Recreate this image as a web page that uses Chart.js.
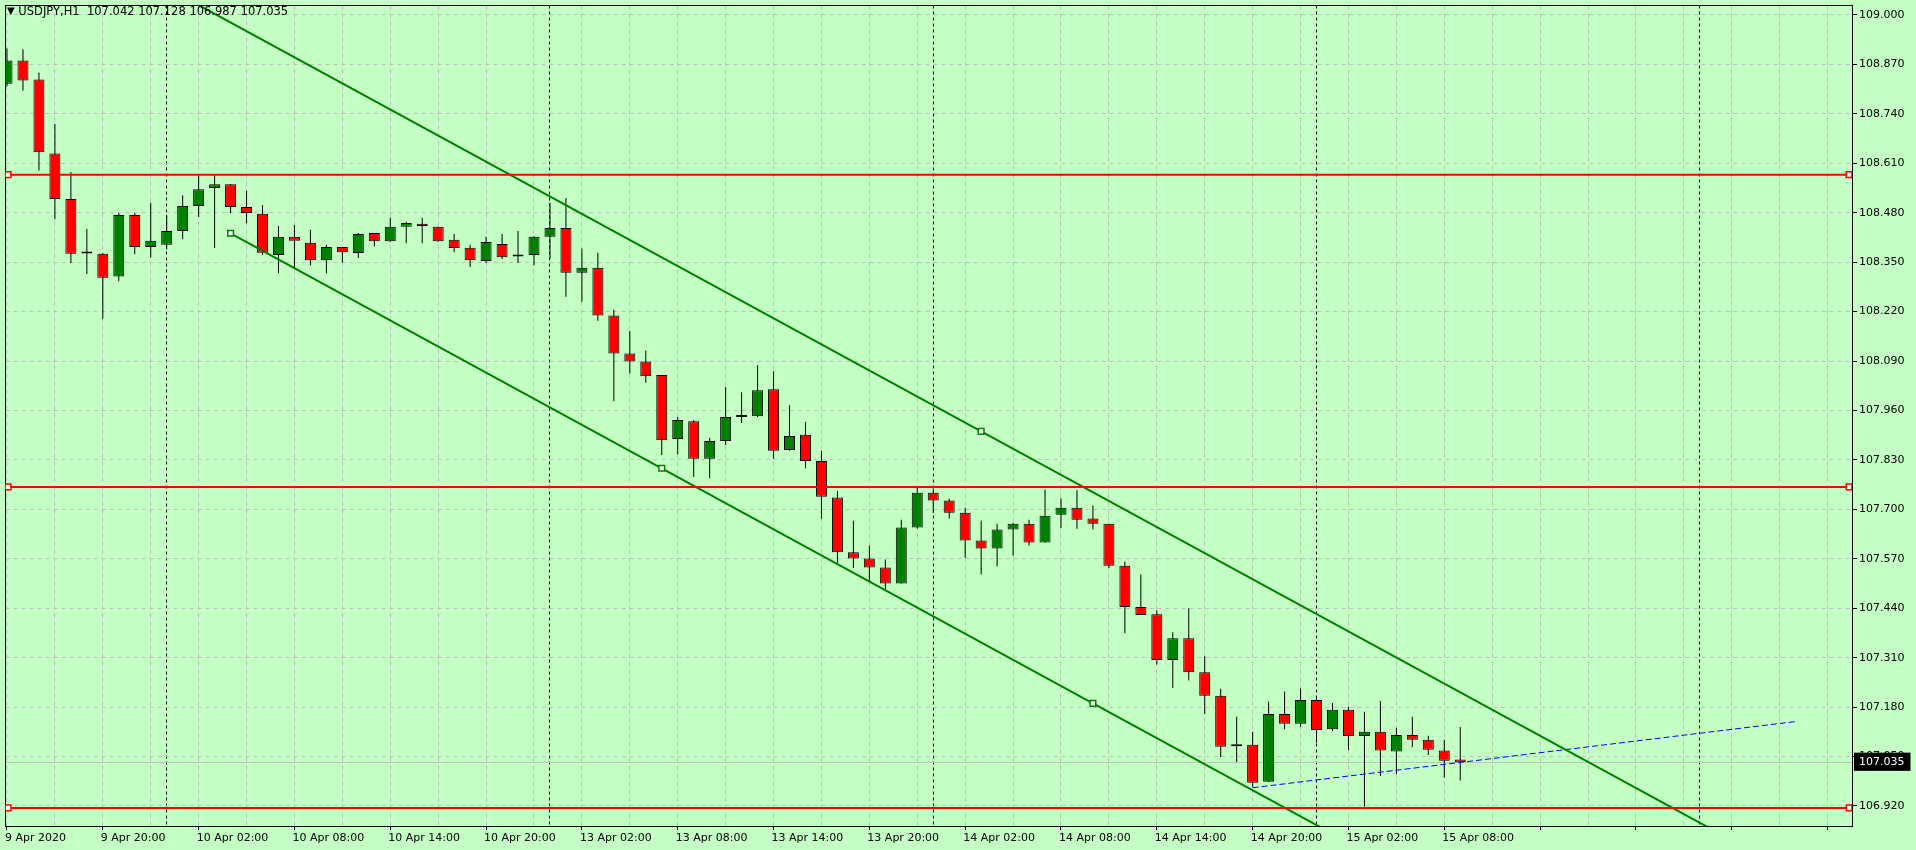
<!DOCTYPE html>
<html>
<head>
<meta charset="utf-8">
<title>USDJPY,H1</title>
<script src="https://cdn.jsdelivr.net/npm/chart.js@4.4.1/dist/chart.umd.min.js"></script>
<style>
  html, body { margin: 0; padding: 0; background: #c4ffc4; overflow: hidden; }
  #wrap { position: relative; width: 1916px; height: 850px; }
  #symbol { position: absolute; left: 7px; top: 4px; font: 11.5px "DejaVu Sans", sans-serif; color: #000; white-space: pre; }
  #symbol .arrow { font-size: 10px; position: relative; top: -1px; }
</style>
</head>
<body>
<div id="wrap">
  <canvas id="myChart" width="1916" height="850"></canvas>
  <div id="symbol"><span class="arrow">▼</span> USDJPY,H1  107.042 107.128 106.987 107.035</div>
</div>
<script>
// hourly bars, 9 Apr 14:00 .. 15 Apr 09:00 (weekend skipped)
const opens = [
  108.819, 108.880, 108.830, 108.636, 108.516, 108.374, 108.372, 108.312, 108.474, 108.390,
  108.396, 108.432, 108.498, 108.545, 108.555, 108.495, 108.477, 108.369, 108.417, 108.401,
  108.355, 108.390, 108.374, 108.427, 108.405, 108.443, 108.451, 108.443, 108.409, 108.388,
  108.353, 108.398, 108.366, 108.369, 108.417, 108.440, 108.322, 108.335, 108.210, 108.110,
  108.089, 108.053, 107.885, 107.932, 107.833, 107.880, 107.943, 107.945, 108.016, 107.856,
  107.896, 107.827, 107.731, 107.587, 107.571, 107.547, 107.505, 107.652, 107.744, 107.723,
  107.691, 107.618, 107.597, 107.647, 107.662, 107.613, 107.686, 107.704, 107.676, 107.662,
  107.552, 107.443, 107.424, 107.304, 107.361, 107.272, 107.210, 107.078, 107.081, 106.984,
  107.162, 107.136, 107.199, 107.122, 107.173, 107.104, 107.115, 107.063, 107.107, 107.094,
  107.066, 107.042
];
const highs = [
  108.912, 108.910, 108.849, 108.713, 108.587, 108.437, 108.374, 108.479, 108.479, 108.506,
  108.474, 108.526, 108.582, 108.582, 108.555, 108.537, 108.500, 108.445, 108.448, 108.435,
  108.396, 108.390, 108.427, 108.427, 108.467, 108.456, 108.467, 108.443, 108.424, 108.396,
  108.417, 108.424, 108.432, 108.419, 108.506, 108.519, 108.386, 108.375, 108.225, 108.169,
  108.118, 108.053, 107.943, 107.935, 107.888, 108.022, 108.008, 108.079, 108.063, 107.974,
  107.930, 107.854, 107.749, 107.670, 107.605, 107.568, 107.673, 107.758, 107.754, 107.728,
  107.704, 107.670, 107.662, 107.665, 107.673, 107.752, 107.729, 107.750, 107.710, 107.662,
  107.563, 107.529, 107.435, 107.377, 107.440, 107.314, 107.228, 107.155, 107.115, 107.195,
  107.221, 107.229, 107.205, 107.191, 107.181, 107.168, 107.196, 107.126, 107.155, 107.105,
  107.094, 107.128
];
const lows = [
  108.812, 108.801, 108.591, 108.463, 108.348, 108.319, 108.201, 108.300, 108.371, 108.362,
  108.384, 108.410, 108.469, 108.387, 108.479, 108.452, 108.369, 108.321, 108.335, 108.341,
  108.321, 108.349, 108.361, 108.392, 108.403, 108.400, 108.400, 108.403, 108.376, 108.337,
  108.348, 108.358, 108.348, 108.342, 108.358, 108.259, 108.246, 108.196, 107.984, 108.057,
  108.033, 107.843, 107.845, 107.785, 107.782, 107.869, 107.927, 107.943, 107.833, 107.854,
  107.808, 107.675, 107.559, 107.546, 107.511, 107.490, 107.505, 107.649, 107.691, 107.676,
  107.573, 107.529, 107.550, 107.578, 107.605, 107.613, 107.651, 107.649, 107.647, 107.546,
  107.374, 107.422, 107.292, 107.230, 107.250, 107.162, 107.049, 107.036, 106.969, 106.984,
  107.122, 107.128, 107.086, 107.117, 107.067, 106.918, 106.999, 107.004, 107.075, 107.054,
  106.994, 106.987
];
const closes = [
  108.880, 108.828, 108.639, 108.516, 108.372, 108.373, 108.309, 108.474, 108.390, 108.406,
  108.432, 108.498, 108.542, 108.555, 108.495, 108.479, 108.375, 108.417, 108.406, 108.355,
  108.390, 108.376, 108.424, 108.405, 108.443, 108.453, 108.445, 108.405, 108.387, 108.355,
  108.403, 108.363, 108.365, 108.417, 108.440, 108.322, 108.335, 108.210, 108.110, 108.089,
  108.050, 107.882, 107.935, 107.833, 107.880, 107.943, 107.943, 108.013, 107.854, 107.893,
  107.827, 107.733, 107.587, 107.571, 107.547, 107.505, 107.652, 107.744, 107.723, 107.691,
  107.618, 107.597, 107.647, 107.662, 107.613, 107.683, 107.704, 107.673, 107.662, 107.552,
  107.443, 107.422, 107.304, 107.361, 107.272, 107.210, 107.076, 107.077, 106.981, 107.162,
  107.136, 107.199, 107.120, 107.173, 107.104, 107.115, 107.066, 107.107, 107.094, 107.068,
  107.039, 107.035
];

// one label every 6 bars, starting at bar 0
const xLabels = [
  "9 Apr 2020", "9 Apr 20:00", "10 Apr 02:00", "10 Apr 08:00", "10 Apr 14:00", "10 Apr 20:00",
  "13 Apr 02:00", "13 Apr 08:00", "13 Apr 14:00", "13 Apr 20:00", "14 Apr 02:00", "14 Apr 08:00",
  "14 Apr 14:00", "14 Apr 20:00", "15 Apr 02:00", "15 Apr 08:00"
];
const yTicks = [
  109.000, 108.870, 108.740, 108.610, 108.480, 108.350, 108.220, 108.090, 107.960,
  107.830, 107.700, 107.570, 107.440, 107.310, 107.180, 107.050, 106.920
];
const bidPrice = 107.035;
const dayStarts = [10, 34, 58, 82, 106];

// objects drawn on the chart
const levels = [108.580, 107.759, 106.915];
const channelUpper = [{x: 12, y: 109.026}, {x: 61, y: 107.905}, {x: 107, y: 106.853}];
const channelLower = [{x: 14, y: 108.426}, {x: 41, y: 107.808}, {x: 68, y: 107.190}, {x: 83, y: 106.847}];
const trendBlue = [{x: 78, y: 106.968}, {x: 112, y: 107.142}];

const GREEN = "#008000";
const RED = "#ff0000";
const GRID = "#bcbcbc";
const FONT = {family: "DejaVu Sans", size: 11};

const xMin = -1.5 / 16;
const xMax = xMin + 1850 / 16;
const yMin = 106.8674;
const yMax = 109.0249;

const bodies = [];
const wicks = [];
const bodyColors = [];
for (let i = 0; i < opens.length; i++) {
  bodies.push({x: i, y: [opens[i], closes[i]]});
  wicks.push({x: i, y: [lows[i], highs[i]]});
  bodyColors.push(closes[i] >= opens[i] ? GREEN : RED);
}

function isDay(ctx) {
  return !!ctx.tick && dayStarts.includes(ctx.tick.value);
}
function isBid(ctx) {
  return !!ctx.tick && Math.abs(ctx.tick.value - bidPrice) < 1e-6;
}
function noPadding(scale) {
  scale.paddingTop = 0;
  scale.paddingBottom = 0;
  scale.paddingLeft = 0;
  scale.paddingRight = 0;
}

const datasets = [
  {
    type: "bar", label: "wicks", data: wicks, order: 5,
    backgroundColor: "#000000", borderWidth: 0, barThickness: 1,
    grouped: false, inflateAmount: 0, xAxisID: "x", yAxisID: "y"
  },
  {
    type: "bar", label: "bodies", data: bodies, order: 4,
    backgroundColor: bodyColors, borderColor: "#000000", borderWidth: 1,
    borderSkipped: false, barThickness: 11, minBarLength: 2,
    grouped: false, inflateAmount: 0, xAxisID: "x", yAxisID: "y"
  }
];

for (let i = 0; i < levels.length; i++) {
  datasets.push({
    type: "line", label: "level " + levels[i], order: 1,
    data: [{x: 0.07, y: levels[i]}, {x: 115.35, y: levels[i]}],
    borderColor: RED, borderWidth: 2, pointStyle: "rect", pointRadius: 4,
    pointBackgroundColor: "#ffffff", pointBorderColor: RED, pointBorderWidth: 1.5,
    tension: 0, xAxisID: "x", yAxisID: "y"
  });
}

datasets.push({
  type: "line", label: "channel upper", order: 1, data: channelUpper,
  borderColor: GREEN, borderWidth: 2, pointStyle: "rect", pointRadius: [0, 4, 0],
  pointBackgroundColor: "#ffffff", pointBorderColor: GREEN, pointBorderWidth: 1.5,
  tension: 0, xAxisID: "x", yAxisID: "y"
});
datasets.push({
  type: "line", label: "channel lower", order: 1, data: channelLower,
  borderColor: GREEN, borderWidth: 2, pointStyle: "rect", pointRadius: [4, 4, 4, 0],
  pointBackgroundColor: "#ffffff", pointBorderColor: GREEN, pointBorderWidth: 1.5,
  tension: 0, xAxisID: "x", yAxisID: "y"
});
datasets.push({
  type: "line", label: "trend", order: 1, data: trendBlue,
  borderColor: "#0000ff", borderWidth: 1, borderDash: [6, 3], pointRadius: 0,
  tension: 0, xAxisID: "x", yAxisID: "y"
});

function renderChart() {
  const ctx = document.getElementById("myChart");

  const config = {
    type: "bar",
    data: {datasets: datasets},
    options: {
      responsive: false,
      animation: false,
      events: [],
      layout: {padding: {left: 2, top: 2, right: 0, bottom: 0}},
      plugins: {legend: {display: false}, tooltip: {enabled: false}},
      scales: {
        x: {
          type: "linear", position: "bottom", min: xMin, max: xMax, offset: false,
          afterBuildTicks: (scale) => {
            const ticks = [];
            for (let v = 0; v <= 115; v += 3) {
              if (!dayStarts.includes(v)) ticks.push({value: v});
            }
            dayStarts.forEach((d) => ticks.push({value: d}));
            scale.ticks = ticks;
          },
          afterFit: (scale) => { scale.height = 24; noPadding(scale); },
          grid: {
            offset: false,
            color: (c) => (isDay(c) ? "#000000" : GRID),
            lineWidth: 1,
            tickLength: 4,
            tickColor: (c) => (c.tick && !isDay(c) && c.tick.value % 6 === 0 ? "#000000" : "rgba(0,0,0,0)")
          },
          border: {color: "#000000", width: 1, dash: (c) => (isDay(c) ? [3, 3] : [4, 4])},
          ticks: {
            autoSkip: false, maxRotation: 0, minRotation: 0, align: "start",
            labelOffset: -2, padding: 2, color: "#000000", font: FONT,
            callback: (v) => {
              if (dayStarts.includes(v) || v % 6 !== 0) return "";
              return xLabels[v / 6] || "";
            }
          }
        },
        y: {
          type: "linear", position: "right", min: yMin, max: yMax, beginAtZero: false,
          afterBuildTicks: (scale) => {
            scale.ticks = yTicks.concat([bidPrice]).map((v) => ({value: v}));
          },
          afterFit: (scale) => { scale.width = 64; noPadding(scale); },
          grid: {
            color: (c) => (isBid(c) ? "#c0c0c0" : GRID),
            lineWidth: 1,
            tickLength: 5,
            tickColor: (c) => (isBid(c) ? "rgba(0,0,0,0)" : "#000000")
          },
          border: {color: "#000000", width: 1, dash: (c) => (isBid(c) ? [] : [4, 4])},
          ticks: {
            autoSkip: false, padding: 2, font: FONT,
            color: (c) => (isBid(c) ? "#ffffff" : "#000000"),
            showLabelBackdrop: (c) => isBid(c),
            backdropColor: "#000000",
            backdropPadding: {left: 5, right: 6, top: 3, bottom: 2},
            callback: (v) => Number(v).toFixed(3)
          }
        },
        xTop: {
          type: "linear", position: "top", min: xMin, max: xMax,
          grid: {display: false, drawTicks: false}, ticks: {display: false},
          border: {color: "#000000", width: 1},
          afterFit: (scale) => { scale.height = 0; noPadding(scale); }
        },
        yLeft: {
          type: "linear", position: "left", min: yMin, max: yMax,
          grid: {display: false, drawTicks: false}, ticks: {display: false},
          border: {color: "#000000", width: 1},
          afterFit: (scale) => { scale.width = 0; noPadding(scale); }
        }
      }
    }
  };
  new Chart(ctx, config);
}

renderChart();
</script>
</body>
</html>
